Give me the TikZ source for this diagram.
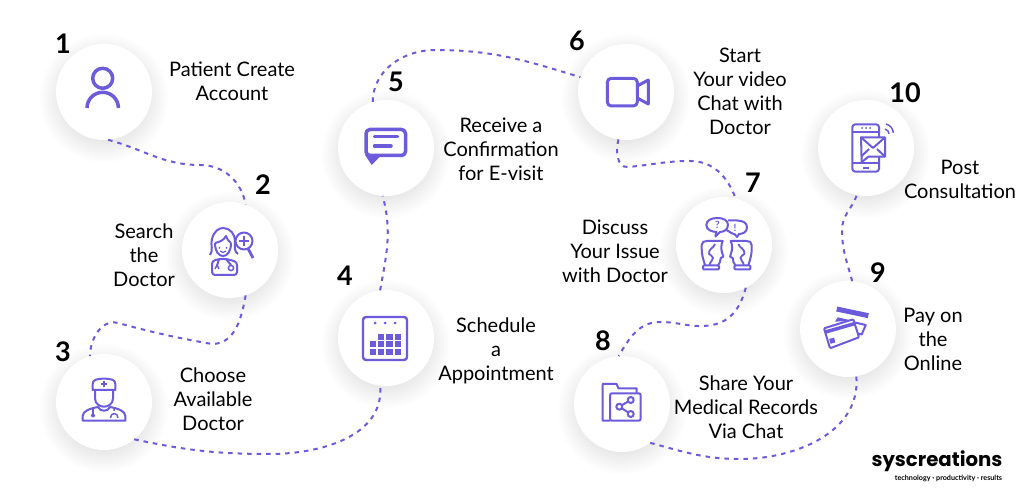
\documentclass[tikz,border=0pt]{standalone}
\usepackage{fontspec}
\setmainfont{Lato}
\newfontfamily\logofont{Poppins}
\usepackage{tikz}
\usetikzlibrary{calc}
\definecolor{iris}{RGB}{108,91,219}
\tikzset{
    stop/.style={circle, fill=white, minimum size=96pt, inner sep=0pt, outer sep=0pt},
    num/.style={font=\fontsize{27}{27}\selectfont\bfseries},
    txt/.style={align=center, font=\fontsize{20}{24}\selectfont},
    link/.style={iris, line width=2pt, dash pattern=on 4.5pt off 5pt},
    icon/.style={iris, line width=3pt, line join=round},
    fine/.style={iris, line width=2pt, line join=round},
    thin/.style={iris, line width=1.5pt, line join=round}
}
\begin{document}
\begin{tikzpicture}[x=1pt, y=1pt]
    \fill[white] (0,0) rectangle (1024,500);
    \useasboundingbox (0,0) rectangle (1024,500);

    % circles, each with a soft shadow
    \foreach \nm/\cx/\cy in {1/104/408, 2/230/250, 3/104/98, 4/386/162, 5/386/352,
                             6/626/408, 7/724/255, 8/622/96, 9/848/171, 10/866/352} {
        \foreach \rr in {64,62,...,44}
            \fill[black, opacity=0.007] (\cx,\cy-6) circle (\rr);
        \node[stop] (n\nm) at (\cx,\cy) {};
    }

    % bends of the dotted route
    \coordinate (w12) at (200,335);
    \coordinate (w23a) at (212,156);
    \coordinate (w23b) at (118,177);
    \coordinate (w34) at (270,46);
    \coordinate (w56) at (435,450);
    \coordinate (w67a) at (628,333);
    \coordinate (w67b) at (690,339);
    \coordinate (w78a) at (712,175);
    \coordinate (w78b) at (660,178);
    \coordinate (w89) at (740,41);
    \coordinate (w910) at (842,270);

    \draw[link] (n1.-85) to[out=-15,in=180] (w12) to[out=0,in=100] (n2.71);
    \draw[link] (n2.-71) to[out=-100,in=0] (w23a) to[out=170,in=-15] (w23b) to[out=165,in=90] (n3.107);
    \draw[link] (n3.-51) to[out=-12,in=180] (w34) to[out=0,in=-85] (n4.-97);
    \draw[link] (n4.97) to[out=80,in=-75] (n5.-94);
    \draw[link] (n5.106) to[out=90,in=180] (w56) to[out=0,in=163] (n6.162);
    \draw[link] (n6.-99) to[out=-105,in=185] (w67a) to[out=5,in=180] (w67b) to[out=0,in=110] (n7.76);
    \draw[link] (n7.-63) to[out=-105,in=10] (w78a) to[out=190,in=0] (w78b) to[out=180,in=60] (n8.94);
    \draw[link] (n8.-54) to[out=-15,in=180] (w89) to[out=0,in=-85] (n9.-80);
    \draw[link] (n9.85) to[out=105,in=-90] (w910) to[out=90,in=-110] (n10.-101);

    % step numbers
    \node[num] (l1) at (63,456) {1};
    \node[num] (l2) at (263,315) {2};
    \node[num] (l3) at (63,148) {3};
    \node[num] (l4) at (345,224) {4};
    \node[num] (l5) at (396,418) {5};
    \node[num] (l6) at (577,459) {6};
    \node[num] (l7) at (753,317) {7};
    \node[num] (l8) at (603,159) {8};
    \node[num] (l9) at (878,227) {9};
    \node[num] (l10) at (905,407) {10};

    % captions
    \node[txt] (t1) at (232,419) {Patient Create\\Account};
    \node[txt] (t2) at (144,245) {Search\\the\\Doctor};
    \node[txt] (t3) at (213,101) {Choose\\Available\\Doctor};
    \node[txt] (t4) at (496,149) {Schedule\\a\\Appointment};
    \node[txt] (t5) at (501,351) {Receive a\\Confirmation\\for E-visit};
    \node[txt] (t6) at (740,409) {Start\\Your video\\Chat with\\Doctor};
    \node[txt] (t7) at (615,249) {Discuss\\Your Issue\\with Doctor};
    \node[txt] (t8) at (746,93) {Share Your\\Medical Records\\Via Chat};
    \node[txt] (t9) at (933,161) {Pay on\\the\\Online};
    \node[txt] (t10) at (960,321) {Post\\Consultation};

    % person
    \begin{scope}[shift={(n1.center)}]
        \draw[icon, line width=3.5pt] (-1.3,13.7) circle (10);
        \draw[icon, line width=3.5pt] (-17,-16) arc (180:0:15.7);
    \end{scope}
    % woman doctor with magnifier
    \begin{scope}[shift={(n2.center)}]
        \draw[fine] (-20,-5) .. controls (-16,0) and (-20,5) .. (-18,11) .. controls (-16,19) and (-11,22) .. (-7,22)
            .. controls (0,22) and (5,16) .. (5,9) .. controls (5,3) and (4,-2) .. (8,-4);
        \draw[fine] (-15,7) .. controls (-15,-2) and (-11,-6) .. (-7,-6) .. controls (-3,-6) and (1,-2) .. (1,7);
        \draw[fine] (-15,7) .. controls (-10,8) and (-6,10) .. (-4,14) .. controls (-3,11) and (-1,8) .. (1,7);
        \draw[thin, line width=1.2pt] (-10,-1) .. controls (-8,-3) and (-6,-3) .. (-4,-1);
        \fill[iris] (-10.5,2) circle (1) (-3.5,2) circle (1);
        \draw[fine, rounded corners=3pt] (-18,-25) -- (-18,-11) -- (-11,-9) -- (-3,-9) -- (7,-12) -- (7,-25) -- cycle;
        \draw[fine] (-11,-9) -- (-13,-16) (-4,-9) -- (1,-15);
        \draw[thin] (1,-18) circle (2.6);
        \draw[thin] (-15,-19) -- (-13,-15) -- (-11,-19);
        \draw[fine, fill=white] (14,9) circle (8.5);
        \draw[fine, line width=2.6pt] (14,4) -- (14,14) (9,9) -- (19,9);
        \draw[fine, line width=2.8pt] (18,1.5) -- (23,-8);
    \end{scope}
    % male doctor
    \begin{scope}[shift={(n3.center)}]
        \draw[fine] (-11.3,12) -- (-11.3,18) .. controls (-11.3,22) and (-8,23.3) .. (0,23.3)
            .. controls (8,23.3) and (11.3,22) .. (11.3,18) -- (11.3,12) -- cycle;
        \draw[fine] (0,14.5) -- (0,21) (-3.2,17.7) -- (3.2,17.7);
        \draw[fine] (-9,12) -- (-9,3.5) .. controls (-9,-2) and (-4,-4.7) .. (0,-4.7) .. controls (4,-4.7) and (9,-2) .. (9,3.5) -- (9,12);
        \draw[fine] (-21.3,-18.7) -- (-21.3,-14) .. controls (-21.3,-9) and (-14,-6.5) .. (-6,-5)
            .. controls (-4,-10) and (4,-10) .. (6,-5) .. controls (14,-6.5) and (21.3,-9) .. (21.3,-14) -- (21.3,-18.7) -- cycle;
        \draw[thin] (-11,-7) -- (-11,-12);
        \fill[iris] (-11,-13.5) circle (2);
        \draw[thin] (10,-7) -- (10,-9) (6.5,-16) .. controls (6.5,-10) and (14,-10) .. (14,-16);
    \end{scope}
    % calendar
    \begin{scope}[shift={(n4.center)}]
        \draw[fine, line width=2.4pt, rounded corners=3pt] (-23,-22) rectangle (21,21);
        \foreach \dx in {-11,-1,9}
            \fill[iris] (\dx,15) circle (1.5);
        \foreach \dx/\dy in {-5/1.3, 3.3/1.3, 11.7/1.3,
                             -13.3/-6, -5/-6, 3.3/-6, 11.7/-6,
                             -13.3/-13.7, -5/-13.7, 3.3/-13.7, 11.7/-13.7}
            \fill[iris] (\dx-3.2,\dy-2.9) rectangle (\dx+3.2,\dy+2.9);
    \end{scope}
    % chat bubble
    \begin{scope}[shift={(n5.center)}]
        \draw[icon, line width=3.5pt, rounded corners=4pt] (-20,-7.5) rectangle (19.5,18.5);
        \fill[iris] (-21,-7) -- (-14.3,-17) -- (-4.3,-7) -- cycle;
        \draw[icon, line width=3.5pt, line cap=round] (-11.5,11.3) -- (11.5,11.3) (-11.5,2) -- (5,2);
    \end{scope}
    % video camera
    \begin{scope}[shift={(n6.center)}]
        \draw[icon, rounded corners=4pt] (-18.7,-14) rectangle (11.3,13.7);
        \draw[icon] (11.3,6) -- (22.3,12) -- (22.3,-12) -- (11.3,-6);
    \end{scope}
    % two heads talking
    \begin{scope}[shift={(n7.center)}]
        \foreach \hd in {1,-1} {
            \begin{scope}[xshift=2.7pt, xscale=\hd, xshift=-2.7pt]
                \draw[fine] (-19,-20) .. controls (-21,-14) and (-22.3,-9) .. (-22.3,-4) -- (-22.3,0)
                    .. controls (-22.3,3) and (-20,4) .. (-17,4) -- (-1.3,4) .. controls (-3,0) and (-3,-4) .. (-2.3,-6)
                    -- (-0.7,-11.7) -- (-3.3,-13) -- (-4,-17) -- (-6,-20.5);
                \draw[thin, line width=1.8pt] (-9,1) .. controls (-10,-3) and (-16,-4) .. (-15,-9) .. controls (-14,-11) and (-11,-10) .. (-11,-13) .. controls (-11,-16) and (-14,-16) .. (-14.5,-20.5);
                \draw[fine, rounded corners=1pt] (-21,-24.5) rectangle (-5,-20.5);
            \end{scope}
        }
        \draw[fine] (-6.7,13) .. controls (-12,13) and (-17.7,15) .. (-17.7,20) .. controls (-17.7,25) and (-12,27) .. (-6.7,27)
            .. controls (-1,27) and (4,25) .. (4,20) .. controls (4,15) and (-1,13) .. (-4,13) -- (-8.5,8.5) -- (-8,13);
        \draw[fine] (4,24.5) -- (13,24.5) .. controls (19,24.5) and (23,22) .. (23,17.7) .. controls (23,13) and (19,11) .. (15,11)
            -- (13,8) -- (11,10.5) .. controls (8,11) and (6,13) .. (2.5,15);
        \node[iris, font=\fontsize{10}{10}\selectfont\bfseries, inner sep=0pt] (qm) at (-6.7,20) {?};
        \node[iris, font=\fontsize{10}{10}\selectfont\bfseries, inner sep=0pt] (em) at (11,17.5) {!};
    \end{scope}
    % folder with share mark
    \begin{scope}[shift={(n8.center)}]
        \draw[fine] (-12,-16.7) -- (-19.3,-16.7) -- (-19.3,20) -- (-5.3,20) -- (-3.7,15.7) -- (14.7,15.7) -- (14.7,10.7);
        \draw[fine, rounded corners=2pt] (-12,-16.7) -- (-12,10.7) -- (18.7,10.7) -- (18.7,-16.7) -- cycle;
        \draw[fine] (8.7,4) -- (-2.7,-2.7) -- (8.7,-10);
        \foreach \sx/\sy in {8.7/4, -2.7/-2.7, 8.7/-10}
            \draw[fine, fill=white] (\sx,\sy) circle (3);
    \end{scope}
    % bank cards
    \begin{scope}[shift={(n9.center)}]
        \draw[iris, line width=5pt] (-11.3,20) -- (20.3,13.3);
        \fill[iris] (-13,7.3) -- (-10.3,11.7) -- (4.3,8.3) -- cycle;
        \draw[fine] (7,6.5) -- (17.7,4) -- (13.7,-5.5) -- (10,-4.5);
        \draw[fine, rounded corners=1pt] (-24,0.7) -- (5.3,9.7) -- (11,-8.3) -- (-18,-19.3) -- cycle;
        \draw[iris, line width=3.5pt] (-22.5,-3) -- (7,5.5);
        \fill[iris, rotate around={16:(-15.7,-11.7)}] (-18.2,-14.2) rectangle (-13.2,-9.2);
    \end{scope}
    % phone with message
    \begin{scope}[shift={(n10.center)}]
        \draw[fine, rounded corners=3pt] (13,10.7) -- (13,23.7) -- (-13.7,23.7) -- (-13.7,-23.7) -- (13,-23.7) -- (13,-8.7);
        \draw[fine] (-13.7,16.3) -- (13,16.3) (-13.7,-15.3) -- (13,-15.3) (-3,-19.7) -- (3,-19.7);
        \foreach \dx in {-4,0,4}
            \fill[iris] (\dx,20) circle (1);
        \draw[fine, fill=white] (-5,10.7) -- (19,10.7) -- (19,-8.7) -- (2.3,-8.7) -- (-4.3,-14.3) -- cycle;
        \draw[fine] (-5,10.7) -- (7,0) -- (19,10.7) (-5,-8.7) -- (3,-1) (19,-8.7) -- (11,-1);
        \draw[thin] (19,19) arc (75:5:5.5) (20,24) arc (75:5:10);
    \end{scope}

    % company mark
    \node[font=\logofont\bfseries\fontsize{19.7}{20}\selectfont, inner sep=0pt] (logo) at (937,39) {syscreations};
    \node[font=\fontsize{7.2}{8}\selectfont\bfseries, inner sep=0pt] (tag) at (948.5,22) {technology · productivity · results};
\end{tikzpicture}
\end{document}
